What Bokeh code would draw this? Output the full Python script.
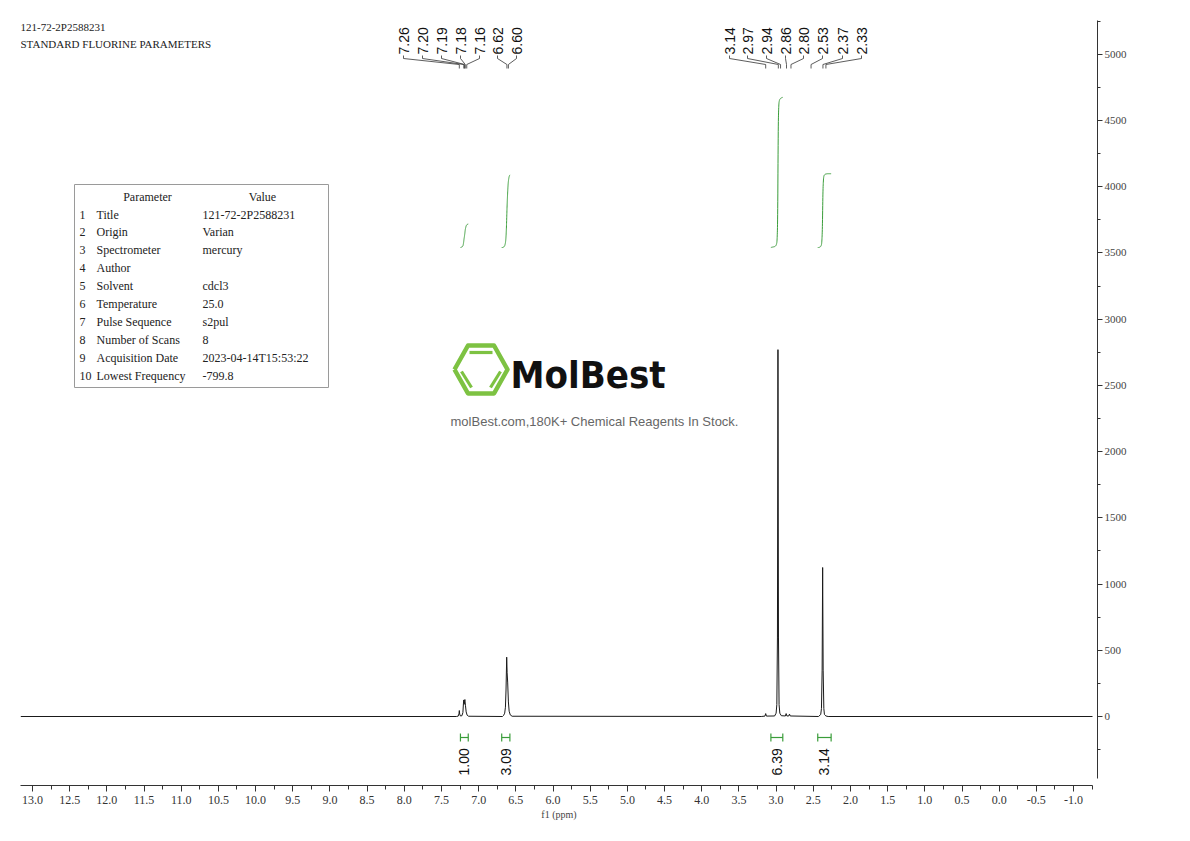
import numpy as np
from bokeh.plotting import figure
from bokeh.models import Range1d, SingleIntervalTicker, NumeralTickFormatter
from bokeh.core.properties import value
from bokeh.embed import file_html
from bokeh.resources import INLINE

# ---------------- data ----------------
title_lines = ["121-72-2P2588231", "STANDARD FLUORINE PARAMETERS"]

# spectrum trace: chemical shift (ppm) and intensity
trace_ppm = [13.16, 7.30, 7.275, 7.265, 7.26, 7.255, 7.245, 7.225, 7.212, 7.205,
             7.20, 7.195, 7.19, 7.185, 7.178, 7.168, 7.155, 7.135,
             6.68, 6.665, 6.65, 6.64, 6.632, 6.623, 6.617, 6.61, 6.60, 6.59, 6.575, 6.55,
             3.20, 3.15, 3.14, 3.13, 3.02, 3.00, 2.99, 2.982, 2.975, 2.968, 2.96, 2.95,
             2.93, 2.875, 2.865, 2.855, 2.83, 2.82, 2.81,
             2.43, 2.40, 2.39, 2.381, 2.374, 2.367, 2.358, 2.35, 2.33, 2.30, -1.255]
trace_int = [0, 0, 3, 20, 45, 18, 4, 6, 30, 95,
             125, 92, 115, 128, 85, 35, 10, 2,
             0, 8, 25, 70, 200, 448, 330, 260, 110, 40, 12, 2,
             0, 3, 22, 3, 4, 25, 90, 600, 2770, 600, 90, 25,
             6, 4, 22, 4, 4, 18, 4,
             0, 15, 60, 350, 1125, 350, 60, 15, 4, 0, 0]

# peak picking labels
peak_labels_a = ["7.26", "7.20", "7.19", "7.18", "7.16", "6.62", "6.60"]
peak_ppm_a = [7.26, 7.20, 7.19, 7.18, 7.16, 6.62, 6.60]
peak_labels_b = ["3.14", "2.97", "2.94", "2.86", "2.80", "2.53", "2.37", "2.33"]
peak_ppm_b = [3.14, 2.97, 2.94, 2.86, 2.80, 2.53, 2.37, 2.33]

# integrals
int_values = [1.00, 3.09, 6.39, 3.14]
int_labels = ["1.00", "3.09", "6.39", "3.14"]
int_from = [7.245, 6.69, 3.07, 2.44]
int_to = [7.14, 6.58, 2.91, 2.26]

# parameter table
param_names = ["Title", "Origin", "Spectrometer", "Author", "Solvent", "Temperature",
               "Pulse Sequence", "Number of Scans", "Acquisition Date", "Lowest Frequency"]
param_values = ["121-72-2P2588231", "Varian", "mercury", "", "cdcl3", "25.0",
                "s2pul", "8", "2023-04-14T15:53:22", "-799.8"]

watermark_name = "MolBest"
watermark_sub = "molBest.com,180K+ Chemical Reagents In Stock."

# ---------------- layout helpers (page pixel -> data) ----------------
def xd(px):
    return 13.0 - (px - 32.0) / 74.36

def yd(py):
    return (716.0 - py) / 0.13244

SERIF = value("Liberation Serif")
SANS = value("Liberation Sans")
GREEN = "#3a9d3a"
TXT = "12px"

p = figure(frame_width=1077, frame_height=765,
           x_range=Range1d(xd(20), xd(1097)), y_range=Range1d(yd(785), yd(20)),
           y_axis_location="right", output_backend="svg", toolbar_location=None,
           min_border_left=20, min_border_top=20, min_border_right=10, min_border_bottom=10,
           background_fill_color="white", border_fill_color="white",
           outline_line_color=None)
p.grid.visible = False

xa = p.xaxis[0]
xa.ticker = SingleIntervalTicker(interval=0.5, num_minor_ticks=2)
xa.formatter = NumeralTickFormatter(format="0.0")
xa.bounds = (xd(1092), xd(20))
xa.axis_label = "f1 (ppm)"
xa.axis_label_text_font = "Liberation Serif"
xa.axis_label_text_font_size = "10px"
xa.axis_label_text_font_style = "normal"
xa.axis_label_standoff = 2
xa.major_label_text_font = "Liberation Serif"
xa.major_label_text_font_size = "12px"
xa.major_label_text_color = "#333333"
xa.major_label_standoff = 4
xa.axis_line_color = "#333333"
xa.major_tick_line_color = "#333333"
xa.minor_tick_line_color = "#333333"
xa.major_tick_out = 6
xa.major_tick_in = 0
xa.minor_tick_out = 4
xa.minor_tick_in = 0

ya = p.yaxis[0]
ya.ticker = SingleIntervalTicker(interval=500, num_minor_ticks=2)
ya.bounds = (yd(778), yd(20))
ya.major_label_text_font = "Liberation Serif"
ya.major_label_text_font_size = "11px"
ya.major_label_text_color = "#444444"
ya.major_label_standoff = 2
ya.axis_line_color = "#333333"
ya.major_tick_line_color = "#333333"
ya.minor_tick_line_color = "#333333"
ya.major_tick_out = 5
ya.major_tick_in = 0
ya.minor_tick_out = 3
ya.minor_tick_in = 0

# spectrum
p.line(trace_ppm, trace_int, line_color="#1a1a1a", line_width=1)

# integral curves
asc_ppm = np.array(trace_ppm[::-1], dtype=float)
asc_int = np.array(trace_int[::-1], dtype=float)
base = yd(247)
unit = 23.5 / 0.13244
for v, f, t in zip(int_values, int_from, int_to):
    g = np.linspace(f, t, 200)
    vals = np.interp(g, asc_ppm, asc_int)
    cum = np.concatenate([[0.0], np.cumsum((vals[1:] + vals[:-1]) / 2.0)])
    yv = base + unit * v * cum / cum[-1]
    p.line(g, yv, line_color=GREEN, line_width=1)

# integral brackets and labels
bxs, bys = [], []
for f, t in zip(int_from, int_to):
    bxs += [[f, t], [f, f], [t, t]]
    bys += [[yd(737), yd(737)], [yd(733), yd(741)], [yd(733), yd(741)]]
p.multi_line(bxs, bys, line_color=GREEN, line_width=1.2)
p.text(x=[(f + t) / 2 for f, t in zip(int_from, int_to)], y=[yd(775)] * 4, text=int_labels,
       angle=np.pi / 2, text_align="left", text_baseline="middle",
       text_font=SANS, text_font_size="14px", text_color="#111111")

# peak labels with connectors
label_px_a = [403, 422, 441, 460, 479, 497, 516]
label_px_b = [729, 747, 766, 785, 803, 822, 842, 861]
lx = [xd(v) for v in label_px_a + label_px_b]
pk = peak_ppm_a + peak_ppm_b
p.text(x=lx, y=[yd(54)] * len(lx), text=peak_labels_a + peak_labels_b,
       angle=np.pi / 2, text_align="left", text_baseline="middle",
       text_font=SANS, text_font_size="14px", text_color="#111111")
cxs = [[a, a, b, b] for a, b in zip(lx, pk)]
cys = [[yd(55), yd(58), yd(64), yd(68)] for _ in lx]
p.multi_line(cxs, cys, line_color="#333333", line_width=0.8)

# title
p.text(x=[xd(20)] * 2, y=[yd(26), yd(43)], text=title_lines,
       text_align="left", text_baseline="middle",
       text_font=SERIF, text_font_size="11px", text_color="#222222")

# parameter table
p.quad(left=xd(74), right=xd(328), top=yd(184), bottom=yd(387),
       fill_alpha=0, line_color="#9a9a9a", line_width=1)
p.text(x=[xd(147), xd(262)], y=[yd(196)] * 2, text=["Parameter", "Value"],
       text_align="center", text_baseline="middle",
       text_font=SERIF, text_font_size=TXT, text_color="#222222")
row_y = [yd(214 + i * 17.9) for i in range(len(param_names))]
p.text(x=[xd(79)] * len(param_names), y=row_y, text=[str(i + 1) for i in range(len(param_names))],
       text_align="left", text_baseline="middle",
       text_font=SERIF, text_font_size=TXT, text_color="#222222")
p.text(x=[xd(96)] * len(param_names), y=row_y, text=param_names,
       text_align="left", text_baseline="middle",
       text_font=SERIF, text_font_size=TXT, text_color="#222222")
p.text(x=[xd(202)] * len(param_names), y=row_y, text=param_values,
       text_align="left", text_baseline="middle",
       text_font=SERIF, text_font_size=TXT, text_color="#222222")

# watermark logo
LOGO = "#7dc242"
hx = [454, 467.5, 493.5, 507, 493.5, 467.5, 454]
hy = [369, 345, 345, 369, 393, 393, 369]
p.line([xd(v) for v in hx], [yd(v) for v in hy], line_color=LOGO, line_width=4.5,
       line_join="round")
ixs = [[469, 492], [461, 471], [500, 490]]
iys = [[352, 352], [371, 387], [371, 387]]
p.multi_line([[xd(v) for v in a] for a in ixs], [[yd(v) for v in a] for a in iys],
             line_color=LOGO, line_width=3.2)
p.text(x=[xd(510)], y=[yd(374)], text=[watermark_name], text_align="left",
       text_baseline="middle", text_font=value("DejaVu Sans Condensed"),
       text_font_style="bold", text_font_size="38px", text_color="#111111")
p.text(x=[xd(594)], y=[yd(421)], text=[watermark_sub], text_align="center",
       text_baseline="middle", text_font=SANS, text_font_size="13px", text_color="#666666")

open("out.html", "w").write(file_html(p, INLINE))
